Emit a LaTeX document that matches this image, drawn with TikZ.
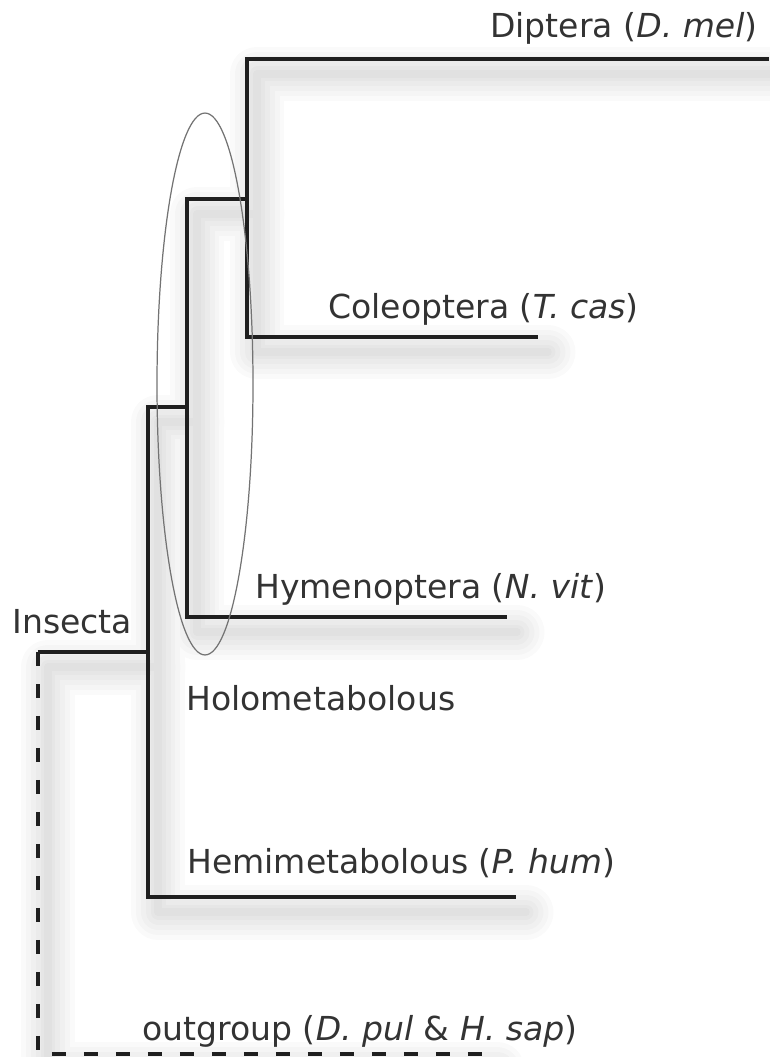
\documentclass[tikz,border=0pt]{standalone}
\usepackage{fontspec}
\setmainfont{DejaVu Sans}
\usetikzlibrary{positioning,shapes.geometric}
\newcommand\lblfont{\fontsize{18.8}{22}\selectfont}
\tikzset{
  % träd
  branch/.style={draw=black!88,line width=2.3pt},
  outbranch/.style={branch,dash pattern=on 0.28cm off 0.36cm},
  shadowline/.style={draw=black,line width=#1,opacity=0.018,line cap=round,
                     line join=round,transform canvas={shift={(10,15)}}},
  ring/.style={ellipse,draw=black!55,line width=0.7pt,inner sep=0pt,
               minimum width=1.92cm,minimum height=10.84cm},
  lbl/.style={anchor=base west,inner sep=0pt,font=\lblfont,text=black!80},
}

\begin{document}
\begin{tikzpicture}[x=0.02cm,y=-0.02cm]
\useasboundingbox (0,0) rectangle (769,1057);
  % knoter
  \coordinate (dmel) at (769,59);
  \coordinate (tcas) at (538,337);
  \coordinate (nvit) at (507,617);
  \coordinate (phum) at (516,897);
  \coordinate (outg) at (487,1054);
  \coordinate (dc) at (247,199);
  \coordinate (holo) at (187,407);
  \coordinate (ins) at (148,652);
  \coordinate (root) at (38,652);
  % skuggor
  \foreach \w in {1.1cm,0.9cm,0.7cm,0.5cm,0.3cm,0.15cm}
    \draw[shadowline=\w] (dmel) -| (dc) |- (tcas) (dc) -| (holo) |- (nvit)
      (holo) -| (ins) |- (phum) (ins) -- (root) |- (outg);
  % grenar
  \draw[branch] (dmel) -| (dc) |- (tcas);
  \draw[branch] (dc) -| (holo) |- (nvit);
  \draw[branch] (holo) -| (ins) |- (phum);
  \draw[branch] (ins) -- (root);
  \draw[outbranch] (root) |- (outg);
  \node[ring] (holoring) at (205,384) {};
  % etiketter
  \node[lbl] (dmellbl) at (490,38) {Diptera (\textit{D. mel})};
  \node[lbl] (tcaslbl) at (328,318) {Coleoptera (\textit{T. cas})};
  \node[lbl] (nvitlbl) at (255,598) {Hymenoptera (\textit{N. vit})};
  \node[lbl] (inslbl) at (12,633) {Insecta};
  \node[lbl] (hololbl) at (186,710) {Holometabolous};
  \node[lbl] (phumlbl) at (187,873) {Hemimetabolous (\textit{P. hum})};
  \node[lbl] (outglbl) at (142,1040) {outgroup (\textit{D. pul} \& \textit{H. sap})};
\end{tikzpicture}
\end{document}
